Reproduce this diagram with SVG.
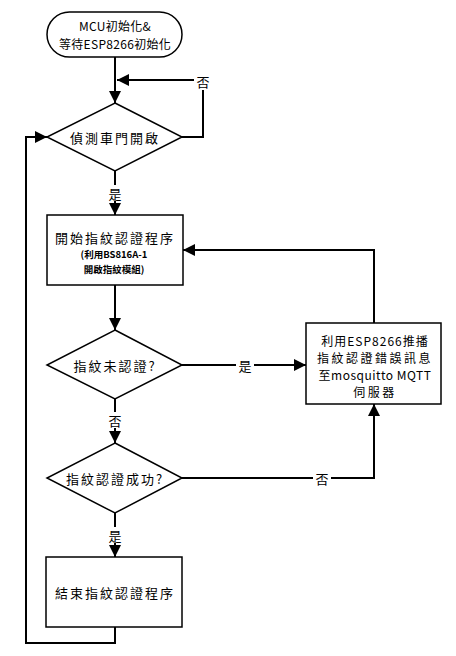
<svg xmlns="http://www.w3.org/2000/svg" width="456" height="656" viewBox="0 0 456 656">
<defs>
<marker id="ah" viewBox="0 0 10 10" refX="10" refY="5" markerWidth="12" markerHeight="12" markerUnits="userSpaceOnUse" orient="auto">
<path d="M0,0 L10,5 L0,10 z" fill="#000"/>
</marker>
<style>
.s{fill:#fff;stroke:#000;stroke-width:1.5}
.c{fill:none;stroke:#000;stroke-width:2}
.t{font-family:"Noto Sans CJK TC","Noto Sans",sans-serif;font-size:13px;fill:#000;text-anchor:middle;dominant-baseline:central}
.w{letter-spacing:2px}
.sm{font-size:9.5px;font-weight:bold}
.r{font-size:12px}
.lb{fill:#fff}
</style>
</defs>
<rect width="456" height="656" fill="#fff"/>
<g id="connectors">
<path class="c" d="M115,57 V103" marker-end="url(#ah)"/>
<path class="c" d="M182,137 H203 V80 H117" marker-end="url(#ah)"/>
<path class="c" d="M115,171 V215" marker-end="url(#ah)"/>
<path class="c" d="M115,285 V330" marker-end="url(#ah)"/>
<path class="c" d="M182,365 H306" marker-end="url(#ah)"/>
<path class="c" d="M115,399 V443" marker-end="url(#ah)"/>
<path class="c" d="M182,478 H374 V404" marker-end="url(#ah)"/>
<path class="c" d="M374,323 V250 H183" marker-end="url(#ah)"/>
<path class="c" d="M115,513 V557" marker-end="url(#ah)"/>
<path class="c" d="M115,627 V643 H26 V137 H47" marker-end="url(#ah)"/>
<rect class="lb" x="194" y="73" width="18" height="17"/>
<text class="t" x="203" y="81">否</text>
<rect class="lb" x="107" y="185" width="16" height="16"/>
<text class="t" x="115" y="193">是</text>
<rect class="lb" x="236" y="357" width="18" height="16"/>
<text class="t" x="245" y="365">是</text>
<rect class="lb" x="107" y="412" width="16" height="16"/>
<text class="t" x="115" y="420">否</text>
<rect class="lb" x="313" y="470" width="18" height="16"/>
<text class="t" x="322" y="478">否</text>
<rect class="lb" x="107" y="527" width="16" height="16"/>
<text class="t" x="115" y="535">是</text>
</g>
<g id="start">
<rect class="s" x="47" y="12" width="135" height="45" rx="22.5" ry="22.5"/>
<text class="t r" x="115" y="25.5" style="letter-spacing:0.3px">MCU初始化&amp;</text>
<text class="t r" x="115" y="43.5" style="letter-spacing:0.3px">等待ESP8266初始化</text>
</g>
<g id="detect">
<polygon class="s" points="115,103 182,137 115,171 47,137"/>
<text class="t w" x="115" y="137">偵測車門開啟</text>
</g>
<g id="startAuth">
<rect class="s" x="47" y="215" width="136" height="70"/>
<text class="t w" x="115" y="237">開始指紋認證程序</text>
<text class="t sm" x="114" y="254">(利用BS816A-1</text>
<text class="t sm" x="114" y="269">開啟指紋模組)</text>
</g>
<g id="notAuth">
<polygon class="s" points="115,330 182,365 115,399 47,365"/>
<text class="t w" x="115" y="365">指紋未認證?</text>
</g>
<g id="push">
<rect class="s" x="306" y="323" width="135" height="81"/>
<text class="t r" x="375" y="340" style="letter-spacing:1px">利用ESP8266推播</text>
<text class="t r" x="375" y="357" style="letter-spacing:2.5px">指紋認證錯誤訊息</text>
<text class="t r" x="375" y="374" style="letter-spacing:0.5px">至mosquitto MQTT</text>
<text class="t r" x="375" y="391" style="letter-spacing:2.5px">伺服器</text>
</g>
<g id="success">
<polygon class="s" points="115,443 182,478 115,513 47,478"/>
<text class="t w" x="115" y="478">指紋認證成功?</text>
</g>
<g id="endAuth">
<rect class="s" x="46" y="557" width="136" height="70"/>
<text class="t w" x="115" y="592">結束指紋認證程序</text>
</g>
</svg>
